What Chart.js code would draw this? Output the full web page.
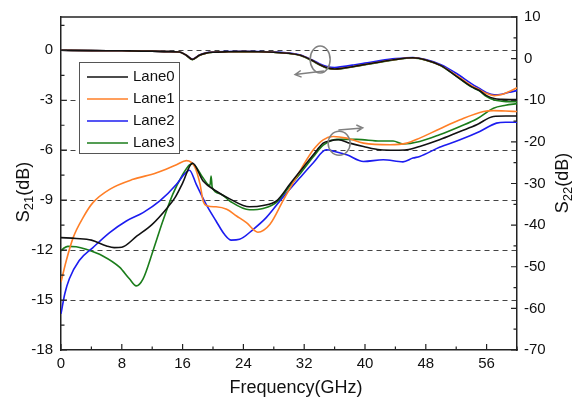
<!DOCTYPE html>
<html>
<head>
<meta charset="utf-8">
<script src="https://cdn.jsdelivr.net/npm/chart.js@4.4.1/dist/chart.umd.min.js"></script>
<style>
html, body { margin: 0; padding: 0; background: #fff; }
</style>
</head>
<body>
<canvas id="chart" width="579" height="398"></canvas>
<script>
// Tick values
const xTicks = [0, 8, 16, 24, 32, 40, 48, 56];
const leftTicks = [-18, -15, -12, -9, -6, -3, 0];
const rightTicks = [-70, -60, -50, -40, -30, -20, -10, 0, 10];
const laneNames = ['Lane0', 'Lane1', 'Lane2', 'Lane3'];

// S21 (left axis, dB) - all lanes share one frequency grid
const freqS21 = [0, 4, 8, 12, 14, 15.6, 16.5, 17.3, 18.2, 19.1, 20, 22, 24, 26, 28, 30, 31.5, 33, 34, 35, 36, 37, 38.5, 40, 42, 44, 46.3, 48, 50, 52, 54, 55, 56, 57, 58, 59, 60];
const s21Lane0 = [0, -0.02, -0.03, -0.05, -0.08, -0.1, -0.3, -0.55, -0.3, -0.17, -0.12, -0.09, -0.08, -0.09, -0.12, -0.18, -0.3, -0.6, -0.85, -1.05, -1.12, -1.08, -0.97, -0.85, -0.7, -0.55, -0.45, -0.58, -0.92, -1.55, -2.18, -2.4, -2.72, -2.9, -2.95, -2.96, -2.96];
const s21Lane1 = [0, -0.02, -0.03, -0.05, -0.08, -0.1, -0.3, -0.55, -0.3, -0.17, -0.12, -0.09, -0.08, -0.09, -0.12, -0.18, -0.3, -0.6, -0.85, -1.05, -1.12, -1.08, -0.97, -0.85, -0.7, -0.55, -0.45, -0.58, -0.92, -1.5, -2.12, -2.35, -2.6, -2.72, -2.66, -2.47, -2.25];
const s21Lane2 = [0, -0.02, -0.03, -0.05, -0.08, -0.1, -0.3, -0.52, -0.28, -0.15, -0.1, -0.07, -0.06, -0.07, -0.1, -0.16, -0.28, -0.57, -0.8, -0.97, -1.03, -0.98, -0.88, -0.77, -0.62, -0.5, -0.43, -0.55, -0.86, -1.38, -2.0, -2.28, -2.55, -2.68, -2.64, -2.52, -2.42];
const s21Lane3 = [0, -0.02, -0.03, -0.05, -0.08, -0.1, -0.31, -0.56, -0.31, -0.18, -0.12, -0.09, -0.08, -0.09, -0.12, -0.19, -0.31, -0.62, -0.87, -1.08, -1.14, -1.1, -0.99, -0.87, -0.71, -0.56, -0.46, -0.59, -0.93, -1.55, -2.2, -2.42, -2.78, -2.98, -3.05, -3.08, -3.08];

// S22 (right axis, dB) - each lane with its own frequency points
const freqS22Lane0 = [0, 2, 4, 6, 7, 8, 10, 12, 14, 15, 16, 17.3, 18.7, 20.4, 22.2, 24.8, 26.6, 28.4, 30.1, 31.4, 33.2, 34.5, 35.5, 36.5, 38, 39.8, 42, 44, 45.5, 47.2, 49.8, 52.5, 54.7, 56.9, 58.5, 60];
const s22Lane0 = [-43.0, -43.2, -43.6, -45.0, -45.4, -45.3, -42.6, -39.8, -35.8, -33.4, -29.9, -25.1, -29.4, -31.8, -33.7, -35.6, -35.3, -34.1, -30.2, -27.2, -23.1, -20.3, -19.7, -19.5, -20.3, -21.1, -21.9, -22.0, -21.9, -21.1, -19.5, -17.5, -15.9, -13.9, -13.8, -13.8];

const freqS22Lane1 = [0, 0.7, 1.6, 2.9, 4.2, 6.4, 9.5, 12.5, 15.2, 16.5, 17.6, 18.3, 18.7, 19.3, 20.4, 21.8, 23.1, 24.4, 25.9, 27.5, 29.2, 30.8, 33.2, 34.5, 35.8, 37.6, 39.8, 43.3, 45.5, 47.2, 49.8, 52.5, 55.6, 56.9, 58.5, 60];
const s22Lane1 = [-53.7, -48.5, -43.0, -38.2, -34.6, -31.4, -29.0, -27.5, -25.5, -24.5, -26.0, -30.2, -34.2, -35.4, -35.6, -36.2, -37.8, -39.4, -41.7, -39.8, -34.2, -29.0, -21.9, -19.5, -18.7, -19.1, -20.3, -20.7, -20.3, -19.1, -16.9, -14.7, -12.7, -12.5, -12.6, -12.7];

const freqS22Lane2 = [0, 0.5, 1.1, 2.4, 4.2, 6.4, 8.6, 10.8, 13, 15.2, 16.2, 16.9, 17.8, 19.1, 20.4, 21.5, 22.4, 23.5, 25.3, 27, 28.8, 31.4, 33.2, 34.9, 36, 37.6, 39.8, 42.4, 45, 46.3, 47.2, 49.8, 52.5, 55.1, 57.3, 58.5, 60];
const s22Lane2 = [-61.3, -56.5, -52.9, -48.5, -45.4, -41.8, -39.0, -37.0, -34.2, -30.2, -27.8, -26.8, -30.2, -35.0, -39.0, -42.2, -43.6, -43.4, -41.0, -38.2, -34.2, -28.7, -25.0, -21.9, -22.3, -23.1, -24.7, -24.3, -24.8, -23.9, -23.5, -21.3, -19.5, -17.5, -15.5, -15.3, -15.3];

const freqS22Lane3 = [0, 0.4, 0.9, 2, 3.3, 5.5, 7.7, 9, 9.9, 10.8, 12.1, 13.4, 14.7, 16, 16.9, 17.3, 18.7, 19.6, 19.75, 19.9, 21, 22.2, 24.8, 26.6, 28.4, 30.1, 31.4, 33.2, 34.5, 36.3, 38.9, 42, 43.7, 45, 47.2, 49.8, 52.5, 54.7, 56.9, 58.5, 60];
const s22Lane3 = [-46.2, -45.5, -45.1, -45.2, -45.8, -47.4, -50.1, -52.9, -54.6, -52.9, -46.2, -39.0, -32.6, -27.9, -25.5, -25.3, -28.7, -30.5, -28.2, -31.0, -32.5, -34.2, -36.3, -36.0, -34.5, -30.6, -27.8, -23.6, -20.8, -19.4, -19.4, -19.8, -19.8, -20.5, -19.9, -18.3, -16.3, -14.5, -11.9, -11.2, -10.8];

const laneColors = ['#111111', '#ff7f27', '#1c1cf0', '#1b7d1b'];
const FONT = 'Arial, "Liberation Sans", sans-serif';
const AXIS_COLOR = '#222';
const ANNOT_COLOR = '#808080';

// Annotation anchors in data coordinates (frequency, S21 dB)
const s21Circle = { f: 34.1, v: -0.55 };
const s21Arrow = { f1: 34.6, v1: -1.24, f2: 30.8, v2: -1.46 };
const s22Circle = { f: 36.6, v: -5.58 };
const s22Arrow = { f1: 36.5, v1: -4.78, f2: 39.7, v2: -4.66 };

function toPoints(xs, ys) {
    return xs.map((x, i) => ({ x: x, y: ys[i] }));
}

function lineSet(label, xs, ys, color, axis) {
    return {
        label: label,
        data: toPoints(xs, ys),
        borderColor: color,
        backgroundColor: color,
        borderWidth: 1.6,
        pointRadius: 0,
        cubicInterpolationMode: 'monotone',
        yAxisID: axis,
        fill: false
    };
}

const datasets = [
    lineSet('Lane0', freqS21, s21Lane0, laneColors[0], 'y'),
    lineSet('Lane1', freqS21, s21Lane1, laneColors[1], 'y'),
    lineSet('Lane2', freqS21, s21Lane2, laneColors[2], 'y'),
    lineSet('Lane3', freqS21, s21Lane3, laneColors[3], 'y'),
    lineSet('Lane0 S22', freqS22Lane0, s22Lane0, laneColors[0], 'y2'),
    lineSet('Lane1 S22', freqS22Lane1, s22Lane1, laneColors[1], 'y2'),
    lineSet('Lane2 S22', freqS22Lane2, s22Lane2, laneColors[2], 'y2'),
    lineSet('Lane3 S22', freqS22Lane3, s22Lane3, laneColors[3], 'y2')
];

// Draw rotated title with a subscript part
function drawRotatedTitle(ctx, x, cy, main, sub, rest) {
    const big = '18px ' + FONT, small = '13px ' + FONT;
    ctx.font = big; const w1 = ctx.measureText(main).width; const w3 = ctx.measureText(rest).width;
    ctx.font = small; const w2 = ctx.measureText(sub).width;
    const total = w1 + w2 + w3;
    ctx.save();
    ctx.translate(x, cy);
    ctx.rotate(-Math.PI / 2);
    ctx.fillStyle = '#111';
    ctx.textBaseline = 'alphabetic';
    ctx.textAlign = 'left';
    let pos = -total / 2;
    ctx.font = big; ctx.fillText(main, pos, 0); pos += w1;
    ctx.font = small; ctx.fillText(sub, pos, 4); pos += w2;
    ctx.font = big; ctx.fillText(rest, pos, 0);
    ctx.restore();
}

function drawArrow(ctx, x1, y1, x2, y2) {
    const ang = Math.atan2(y2 - y1, x2 - x1);
    const hl = 7, ha = 0.5;
    ctx.beginPath();
    ctx.moveTo(x1, y1); ctx.lineTo(x2, y2);
    ctx.moveTo(x2 - hl * Math.cos(ang - ha), y2 - hl * Math.sin(ang - ha));
    ctx.lineTo(x2, y2);
    ctx.lineTo(x2 - hl * Math.cos(ang + ha), y2 - hl * Math.sin(ang + ha));
    ctx.stroke();
}

const decorPlugin = {
    id: 'decor',
    afterDraw(chart) {
        const ctx = chart.ctx;
        const a = chart.chartArea;
        const sx = chart.scales.x, sy = chart.scales.y, sy2 = chart.scales.y2;
        ctx.save();

        // top of the frame
        ctx.strokeStyle = AXIS_COLOR;
        ctx.lineWidth = 1.5;
        ctx.beginPath();
        ctx.moveTo(a.left, a.top); ctx.lineTo(a.right, a.top);
        ctx.stroke();

        // inward tick marks
        const major = 6, minor = 3.5;
        ctx.lineWidth = 1.2;
        ctx.beginPath();
        xTicks.forEach(v => {
            let p = sx.getPixelForValue(v);
            ctx.moveTo(p, a.bottom); ctx.lineTo(p, a.bottom - major);
            p = sx.getPixelForValue(v + 4);
            ctx.moveTo(p, a.bottom); ctx.lineTo(p, a.bottom - minor);
        });
        leftTicks.forEach(v => {
            let p = sy.getPixelForValue(v);
            ctx.moveTo(a.left, p); ctx.lineTo(a.left + major, p);
            p = sy.getPixelForValue(v + 1.5);
            ctx.moveTo(a.left, p); ctx.lineTo(a.left + minor, p);
        });
        rightTicks.forEach((v, i) => {
            let p = sy2.getPixelForValue(v);
            ctx.moveTo(a.right, p); ctx.lineTo(a.right - major, p);
            if (i < rightTicks.length - 1) {
                p = sy2.getPixelForValue(v + 5);
                ctx.moveTo(a.right, p); ctx.lineTo(a.right - minor, p);
            }
        });
        ctx.stroke();

        // annotations: circles and arrows
        ctx.strokeStyle = ANNOT_COLOR;
        ctx.lineWidth = 1.5;
        ctx.beginPath();
        ctx.ellipse(sx.getPixelForValue(s21Circle.f), sy.getPixelForValue(s21Circle.v), 10, 13.5, 0, 0, Math.PI * 2);
        ctx.stroke();
        ctx.beginPath();
        ctx.ellipse(sx.getPixelForValue(s22Circle.f), sy.getPixelForValue(s22Circle.v), 11, 12, 0, 0, Math.PI * 2);
        ctx.stroke();
        drawArrow(ctx, sx.getPixelForValue(s21Arrow.f1), sy.getPixelForValue(s21Arrow.v1),
            sx.getPixelForValue(s21Arrow.f2), sy.getPixelForValue(s21Arrow.v2));
        drawArrow(ctx, sx.getPixelForValue(s22Arrow.f1), sy.getPixelForValue(s22Arrow.v1),
            sx.getPixelForValue(s22Arrow.f2), sy.getPixelForValue(s22Arrow.v2));

        // legend box
        const lx = a.left + 18, ly = a.top + 45, lw = 100, lh = 91;
        ctx.fillStyle = '#fff';
        ctx.fillRect(lx, ly, lw, lh);
        ctx.strokeStyle = '#555';
        ctx.lineWidth = 1;
        ctx.strokeRect(lx + 0.5, ly + 0.5, lw, lh);
        ctx.font = '15px ' + FONT;
        ctx.textBaseline = 'middle';
        ctx.textAlign = 'left';
        laneNames.forEach((name, i) => {
            const yy = ly + 15 + i * 22;
            ctx.strokeStyle = laneColors[i];
            ctx.lineWidth = 1.6;
            ctx.beginPath();
            ctx.moveTo(lx + 8, yy); ctx.lineTo(lx + 49, yy);
            ctx.stroke();
            ctx.fillStyle = '#111';
            ctx.fillText(name, lx + 54, yy);
        });

        // axis titles
        ctx.font = '18px ' + FONT;
        ctx.fillStyle = '#111';
        ctx.textAlign = 'center';
        ctx.textBaseline = 'alphabetic';
        ctx.fillText('Frequency(GHz)', (a.left + a.right) / 2 + 7, 393);
        drawRotatedTitle(ctx, 29, 192, 'S', '21', '(dB)');
        drawRotatedTitle(ctx, 568, 183, 'S', '22', '(dB)');

        ctx.restore();
    }
};

const tickFont = { family: FONT, size: 15 };

new Chart(document.getElementById('chart'), {
    type: 'line',
    data: { datasets: datasets },
    options: {
        responsive: false,
        animation: false,
        events: [],
        layout: { padding: { top: 15, left: 0, right: 0, bottom: 0 } },
        plugins: { legend: { display: false }, tooltip: { enabled: false } },
        scales: {
            x: {
                type: 'linear',
                position: 'bottom',
                min: 0,
                max: 60,
                grid: { display: false, drawTicks: false },
                border: { color: AXIS_COLOR, width: 1.5 },
                ticks: { font: tickFont, color: '#111', padding: 5, maxRotation: 0 },
                afterBuildTicks: s => { s.ticks = xTicks.map(v => ({ value: v })); },
                afterFit: s => { s.height = 48; }
            },
            y: {
                type: 'linear',
                position: 'left',
                min: -18,
                max: 2,
                grid: {
                    drawTicks: false,
                    lineWidth: 1,
                    color: c => (c.tick && c.tick.value > -18 && c.tick.value <= 0) ? '#444' : 'rgba(0,0,0,0)'
                },
                border: { color: AXIS_COLOR, width: 1.5, dash: [5, 4] },
                ticks: { font: tickFont, color: '#111', padding: 8 },
                afterBuildTicks: s => { s.ticks = leftTicks.map(v => ({ value: v })); },
                afterFit: s => { s.width = 61; }
            },
            y2: {
                type: 'linear',
                position: 'right',
                min: -70,
                max: 10,
                grid: { display: false, drawTicks: false },
                border: { color: AXIS_COLOR, width: 1.5 },
                ticks: { font: tickFont, color: '#111', padding: 7 },
                afterBuildTicks: s => { s.ticks = rightTicks.map(v => ({ value: v })); },
                afterFit: s => { s.width = 62; }
            }
        }
    },
    plugins: [decorPlugin]
});
</script>
</body>
</html>
